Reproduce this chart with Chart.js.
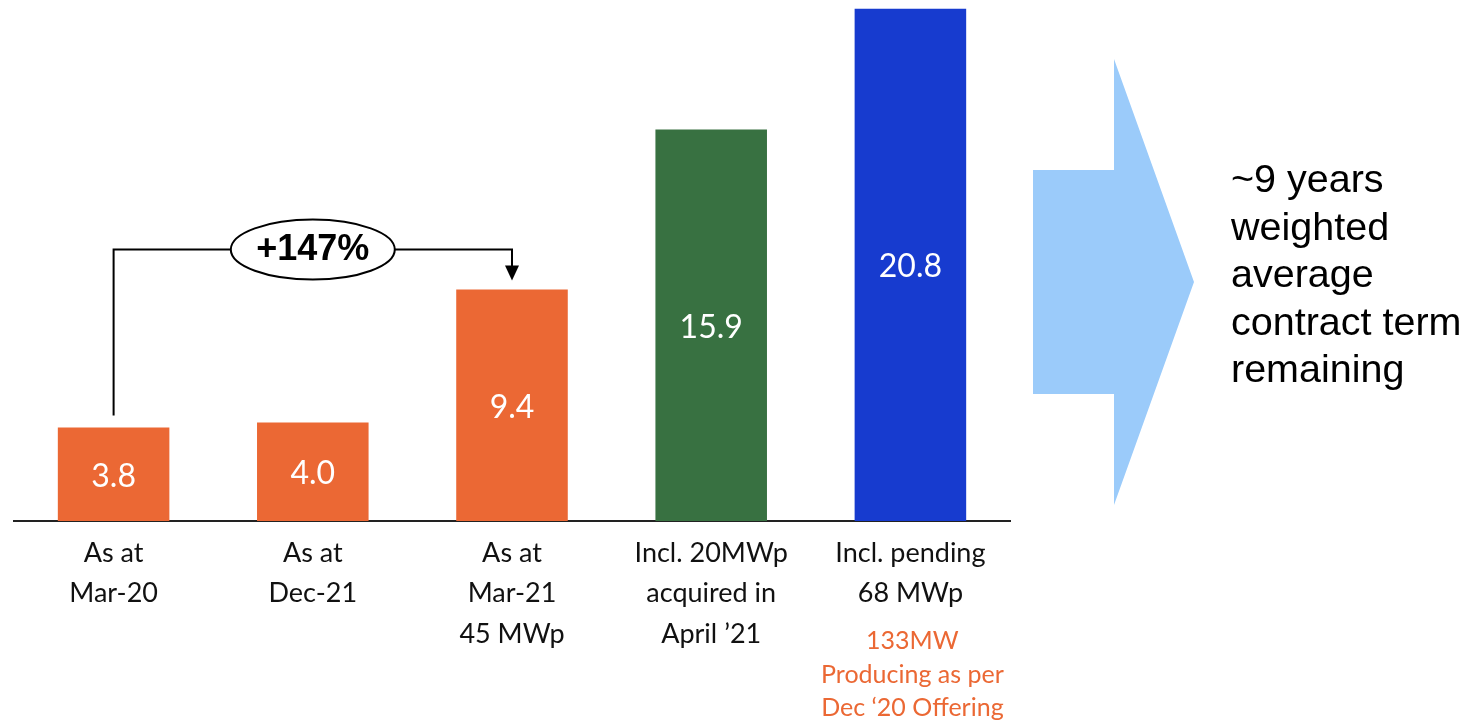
<!DOCTYPE html>
<html>
<head>
<meta charset="utf-8">
<script src="https://cdn.jsdelivr.net/npm/chart.js@4.4.1/dist/chart.umd.min.js"></script>
<style>
  html, body { margin: 0; padding: 0; background: #ffffff; overflow: hidden; }
  #wrap { position: relative; width: 1471px; height: 723px; }
</style>
</head>
<body>
<div id="wrap"><canvas id="c" width="1471" height="723"></canvas></div>
<script>
// Portfolio snapshots (category labels, one line per array entry)
const categories = [
  ["As at", "Mar-20"],
  ["As at", "Dec-21"],
  ["As at", "Mar-21", "45 MWp"],
  ["Incl. 20MWp", "acquired in", "April \u201921"],
  ["Incl. pending", "68 MWp"]
];
const values = [3.8, 4.0, 9.4, 15.9, 20.8];
const barColors = ["#EB6834", "#EB6834", "#EB6834", "#387141", "#173BCF"];
const growthLabel = "+147%";
const footNote = ["133MW", "Producing as per", "Dec \u201820 Offering"];
const sideNote = ["~9 years", "weighted", "average", "contract term", "remaining"];

const BAR_FONT = "Lato, 'Open Sans', sans-serif";
const SIDE_FONT = "'Liberation Sans', Arial, sans-serif";

// White value labels centred inside each bar
const valueLabels = {
  id: "valueLabels",
  afterDatasetsDraw(chart) {
    const ctx = chart.ctx;
    const meta = chart.getDatasetMeta(0);
    ctx.save();
    ctx.fillStyle = "#ffffff";
    ctx.font = "32px " + BAR_FONT;
    ctx.textAlign = "center";
    ctx.textBaseline = "middle";
    meta.data.forEach((bar, i) => {
      ctx.fillText(values[i].toFixed(1), bar.x, (bar.y + bar.base) / 2 + 2);
    });
    ctx.restore();
  }
};

// Growth bracket from the first bar to the third, with the ellipse badge
const growthBracket = {
  id: "growthBracket",
  afterDatasetsDraw(chart) {
    const ctx = chart.ctx;
    const bars = chart.getDatasetMeta(0).data;
    const a = bars[0], m = bars[1], b = bars[2];
    const yTop = b.y - 40;
    const rx = 82, ry = 30;
    ctx.save();
    ctx.strokeStyle = "#000000";
    ctx.fillStyle = "#000000";
    ctx.lineWidth = 2;
    ctx.beginPath();
    ctx.moveTo(a.x, a.y - 12);
    ctx.lineTo(a.x, yTop);
    ctx.lineTo(m.x - rx, yTop);
    ctx.moveTo(m.x + rx, yTop);
    ctx.lineTo(b.x, yTop);
    ctx.lineTo(b.x, b.y - 22);
    ctx.stroke();
    // arrow head
    ctx.beginPath();
    ctx.moveTo(b.x - 7, b.y - 24);
    ctx.lineTo(b.x + 7, b.y - 24);
    ctx.lineTo(b.x, b.y - 9);
    ctx.closePath();
    ctx.fill();
    // badge
    ctx.beginPath();
    ctx.ellipse(m.x, yTop, rx, ry, 0, 0, Math.PI * 2);
    ctx.fillStyle = "#ffffff";
    ctx.fill();
    ctx.stroke();
    ctx.fillStyle = "#000000";
    ctx.font = "bold 36px " + SIDE_FONT;
    ctx.textAlign = "center";
    ctx.textBaseline = "middle";
    ctx.fillText(growthLabel, m.x, yTop + 1);
    ctx.restore();
  }
};

// Orange note under the last category, plus the arrow and side text
const extras = {
  id: "extras",
  afterDraw(chart) {
    const ctx = chart.ctx;
    const xs = chart.scales.x;
    const area = chart.chartArea;
    ctx.save();
    // note below last label
    ctx.fillStyle = "#EB6834";
    ctx.font = "25px " + BAR_FONT;
    ctx.textAlign = "center";
    ctx.textBaseline = "middle";
    const nx = xs.getPixelForValue(categories.length - 1) + 2;
    footNote.forEach((line, i) => {
      ctx.fillText(line, nx, area.bottom + 120 + i * 33.5);
    });
    // block arrow
    ctx.fillStyle = "#9BCBFA";
    ctx.beginPath();
    ctx.moveTo(1033, 170);
    ctx.lineTo(1114, 170);
    ctx.lineTo(1114, 59);
    ctx.lineTo(1194, 282);
    ctx.lineTo(1114, 505);
    ctx.lineTo(1114, 394);
    ctx.lineTo(1033, 394);
    ctx.closePath();
    ctx.fill();
    // side text
    ctx.fillStyle = "#000000";
    ctx.font = "39.5px " + SIDE_FONT;
    ctx.textAlign = "left";
    ctx.textBaseline = "alphabetic";
    sideNote.forEach((line, i) => {
      ctx.fillText(line, 1231, 192 + i * 47.5);
    });
    ctx.restore();
  }
};

new Chart(document.getElementById("c"), {
  type: "bar",
  data: {
    labels: categories,
    datasets: [{
      data: values,
      backgroundColor: barColors,
      borderWidth: 0,
      categoryPercentage: 1.0,
      barPercentage: 0.56
    }]
  },
  options: {
    responsive: false,
    animation: false,
    devicePixelRatio: 1,
    layout: { padding: { left: 14, right: 461, top: 0, bottom: 0 } },
    plugins: { legend: { display: false }, tooltip: { enabled: false } },
    scales: {
      x: {
        grid: { display: false, drawTicks: false },
        border: { display: true, color: "#222222", width: 2 },
        ticks: {
          color: "#111111",
          font: { family: BAR_FONT, size: 27, lineHeight: 1.5 },
          padding: 12,
          maxRotation: 0,
          autoSkip: false
        },
        afterFit(scale) { scale.height = 202; }
      },
      y: { display: false, min: 0, max: 21.16 }
    }
  },
  plugins: [valueLabels, growthBracket, extras]
});
</script>
</body>
</html>
